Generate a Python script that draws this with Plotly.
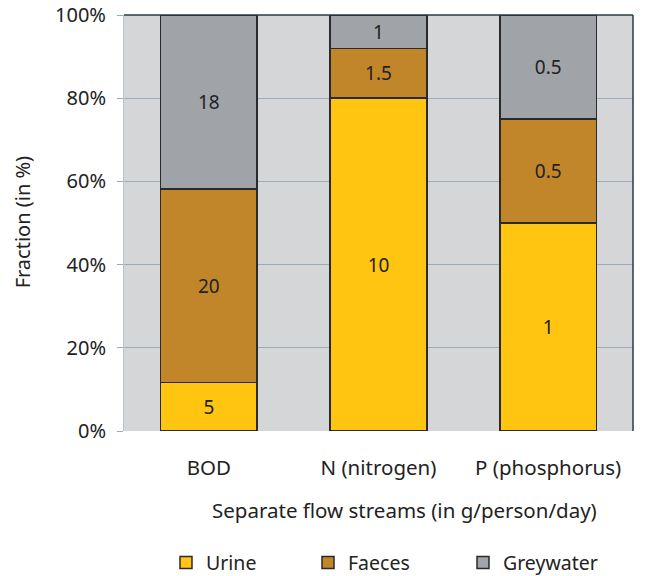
import plotly.graph_objects as go

categories = ["BOD", "N (nitrogen)", "P (phosphorus)"]
urine = [5, 10, 1]
faeces = [20, 1.5, 0.5]
greywater = [18, 1, 0.5]
urine_text = ["5", "10", "1"]
faeces_text = ["20", "1.5", "0.5"]
grey_text = ["18", "1", "0.5"]

FONT = "Noto Sans"
fig = go.Figure()
series = [
    ("Urine", urine, urine_text, "#ffc511", "legend"),
    ("Faeces", faeces, faeces_text, "#c1862a", "legend2"),
    ("Greywater", greywater, grey_text, "#a0a3a7", "legend3"),
]
for name, vals, txt, col, lg in series:
    fig.add_trace(go.Bar(
        x=categories, y=vals, name=name, text=txt, legend=lg, showlegend=True,
        textposition="inside", insidetextanchor="middle",
        textfont=dict(family=FONT, size=19, color="#222222"),
        marker=dict(color=col, line=dict(color="#2a2a2a", width=1.5)),
        hoverinfo="skip",
    ))

legend_common = dict(orientation="h", xanchor="left", y=-0.317, yanchor="middle",
                     font=dict(family=FONT, size=19.5, color="#222222"),
                     bgcolor="rgba(0,0,0,0)", visible=True)

fig.update_layout(
    barmode="stack", barnorm="percent", bargap=0.43,
    width=648, height=576, showlegend=True,
    margin=dict(l=124, r=15, t=15, b=145, autoexpand=False),
    paper_bgcolor="white", plot_bgcolor="#d5d6d8",
    font=dict(family=FONT, size=19, color="#222222"),
    uniformtext=dict(mode=False),
    legend=dict(x=0.0825, **legend_common),
    legend2=dict(x=0.3615, **legend_common),
    legend3=dict(x=0.666, **legend_common),
    xaxis=dict(
        tickfont=dict(size=20.5), showgrid=False, ticks="", ticklen=0, showline=False,
        ticklabelstandoff=22, automargin=False,
    ),
    yaxis=dict(
        range=[0, 100], dtick=20, ticksuffix="%", tickfont=dict(size=20),
        showgrid=True, gridcolor="#9aabb9", gridwidth=1,
        ticks="outside", ticklen=6, tickcolor="#9aabb9", ticklabelstandoff=7,
        ticklabeloverflow="allow",
        showline=True, linecolor="#b8c4ce", linewidth=1, zeroline=False,
        automargin=False,
    ),
    annotations=[
        dict(text="Separate flow streams (in g/person/day)", xref="paper", yref="paper",
             x=0.552, y=-0.19, xanchor="center", yanchor="middle", showarrow=False,
             font=dict(family=FONT, size=20.5, color="#222222")),
        dict(text="Fraction (in %)", xref="paper", yref="paper", textangle=-90,
             x=-0.2, y=0.502, xanchor="center", yanchor="middle", showarrow=False,
             font=dict(family=FONT, size=20, color="#222222")),
    ],
    shapes=[
        dict(type="line", xref="paper", yref="paper", x0=0, x1=1, y0=1, y1=1,
             line=dict(color="#2a3a44", width=1.5)),
        dict(type="line", xref="paper", yref="paper", x0=1, x1=1, y0=0, y1=1,
             line=dict(color="#2a3a44", width=1.5)),
    ],
)

fig.write_html("out.html", config={"displayModeBar": False},
               post_script="document.body.style.margin='0';")
